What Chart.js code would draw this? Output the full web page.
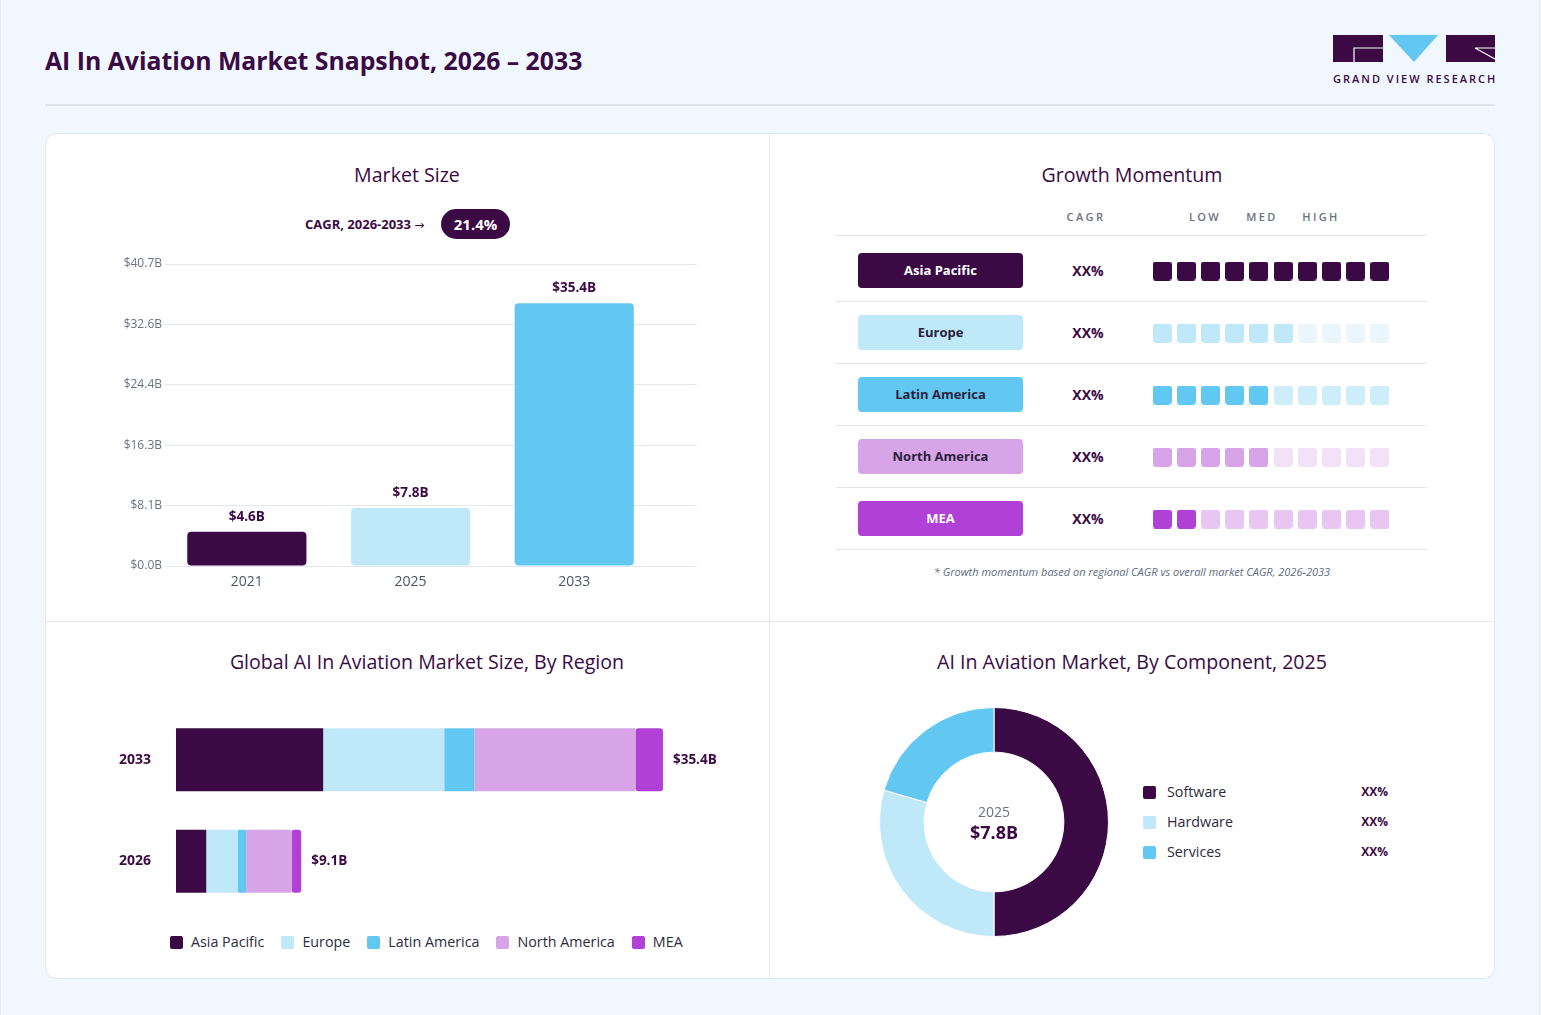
<!DOCTYPE html>
<html>
<head>
<meta charset="utf-8">
<title>AI In Aviation Market Snapshot</title>
<script src="https://cdn.jsdelivr.net/npm/chart.js@4.4.1/dist/chart.umd.min.js"></script>
<style>
  * { box-sizing: border-box; }
  body {
    margin: 0; width: 1541px; height: 1015px; position: relative; overflow: hidden;
    background: #f0f7fe; color: #3b0a45;
    font-family: "Open Sans", "Noto Sans", sans-serif;
  }
  .abs { position: absolute; }
  .edge { left: 0; top: 0; width: 1540px; height: 1015px; border-left: 1px solid #e3eaf3; border-right: 1px solid #e3eaf3; }
  #title { left: 45px; top: 44px; font-size: 24.8px; font-weight: 700; line-height: 32px; white-space: nowrap; }
  .logo-text { left: 1333px; top: 71px; width: 170px; font-size: 11px; font-weight: 600; letter-spacing: 2px; line-height: 16px; white-space: nowrap; }
  #headLine { left: 45px; top: 104px; width: 1450px; height: 2px; background: #dfe6ef; }
  #card { left: 45px; top: 133px; width: 1450px; height: 846px; background: #fff; border: 1px solid #e1e7ef; border-radius: 12px; }
  .vdiv { left: 769px; top: 134px; width: 1px; height: 844px; background: #e6e9f0; }
  .hdiv { left: 46px; top: 621px; width: 1448px; height: 1px; background: #e6e9f0; }
  .ptitle { width: 640px; text-align: center; font-size: 19.6px; font-weight: 500; line-height: 26px; white-space: nowrap; }
  #cagrText { left: 305px; top: 214px; font-size: 13px; font-weight: 700; line-height: 20px; white-space: nowrap; }
  #cagrText .arr { font-family: "DejaVu Sans", sans-serif; font-size: 12px; font-weight: 400; }
  #cagrPill { left: 441px; top: 209px; width: 69px; height: 30px; border-radius: 15px; background: #3b0a45; color: #fff; font-size: 15px; font-weight: 700; line-height: 30px; text-align: center; }
  .mhead { width: 80px; text-align: center; font-size: 11px; font-weight: 600; color: #6b7280; letter-spacing: 2.4px; line-height: 16px; }
  .mline { left: 836px; width: 591px; height: 1px; background: #e5e7ef; }
  .badge { left: 858px; width: 165px; height: 35px; border-radius: 4px; font-size: 13px; font-weight: 700; line-height: 35px; text-align: center; }
  .xx { width: 60px; text-align: center; font-size: 14px; font-weight: 700; line-height: 20px; }
  #foot { left: 832px; top: 564px; width: 600px; text-align: center; font-size: 11px; font-style: italic; color: #5b6b80; line-height: 16px; }
  .leg { display: flex; align-items: center; font-size: 14.3px; color: #2d2a3e; line-height: 20px; white-space: nowrap; }
  .sw { width: 13px; height: 13px; border-radius: 2px; margin-right: 8px; flex: none; }
  .dleg { left: 1143px; width: 245px; }
  .dleg .pct { margin-left: auto; font-size: 12px; font-weight: 700; color: #3b0a45; }
</style>
</head>
<body>
<div class="abs edge"></div>
<div class="abs" id="title">AI In Aviation Market Snapshot, 2026 – 2033</div>

<svg class="abs" style="left:1333px;top:35px" width="163" height="28" viewBox="0 0 163 28">
  <rect x="0" y="0" width="50" height="27" fill="#3b0a45"/>
  <polyline points="21,27 21,13 50,13" fill="none" stroke="#fff" stroke-width="1.2"/>
  <polygon points="56,0 105,0 81,27" fill="#62c8f2"/>
  <rect x="113" y="0" width="49" height="27" fill="#3b0a45"/>
  <polyline points="162,13 142,13 162,24" fill="none" stroke="#fff" stroke-width="1.2"/>
</svg>
<div class="abs logo-text">GRAND VIEW RESEARCH</div>
<div class="abs" id="headLine"></div>

<div class="abs" id="card"></div>
<div class="abs vdiv"></div>
<div class="abs hdiv"></div>

<div class="abs ptitle" style="left:87px;top:162px">Market Size</div>
<div class="abs ptitle" style="left:812px;top:162px">Growth Momentum</div>
<div class="abs ptitle" style="left:107px;top:649px">Global AI In Aviation Market Size, By Region</div>
<div class="abs ptitle" style="left:812px;top:649px">AI In Aviation Market, By Component, 2025</div>

<div class="abs" id="cagrText">CAGR, 2026-2033 <span class="arr">→</span></div>
<div class="abs" id="cagrPill">21.4%</div>

<div class="abs" style="left:100px;top:250px;width:597px;height:346px"><canvas id="marketChart"></canvas></div>

<div class="abs mhead" style="left:1046px;top:209px">CAGR</div>
<div class="abs mhead" style="left:1165px;top:209px">LOW</div>
<div class="abs mhead" style="left:1222px;top:209px">MED</div>
<div class="abs mhead" style="left:1281px;top:209px">HIGH</div>
<div id="momentumRows"></div>
<div class="abs" style="left:1150px;top:240px;width:242px;height:310px"><canvas id="momentumChart"></canvas></div>
<div class="abs" id="foot">* Growth momentum based on regional CAGR vs overall market CAGR, 2026-2033</div>

<div class="abs" style="left:119px;top:700px;width:621px;height:221px"><canvas id="regionChart"></canvas></div>
<div class="abs leg" id="regionLegend" style="left:170px;top:932px"></div>

<div class="abs" style="left:879px;top:707px;width:230px;height:230px"><canvas id="componentChart"></canvas></div>
<div id="componentLegend"></div>

<script>
  // ---- data ----
  const marketYears = ["2021", "2025", "2033"];
  const marketValues = [4.6, 7.8, 35.4];
  const marketTicks = [0, 8.14, 16.28, 24.42, 32.56, 40.7];
  const marketTickLabels = ["$0.0B", "$8.1B", "$16.3B", "$24.4B", "$32.6B", "$40.7B"];

  const regions = ["Asia Pacific", "Europe", "Latin America", "North America", "MEA"];
  const regionYears = ["2033", "2026"];
  const region2033 = [10.7, 8.8, 2.2, 11.7, 2.0];
  const region2026 = [2.2, 2.3, 0.6, 3.3, 0.7];

  const momentumLevels = [10, 6, 5, 5, 2];
  const momentumCagr = ["XX%", "XX%", "XX%", "XX%", "XX%"];
  const momentumSteps = 10;

  const components = ["Software", "Hardware", "Services"];
  const componentValues = [3.9, 2.3, 1.6];
  const componentShares = ["XX%", "XX%", "XX%"];

  // ---- colours ----
  const regionColors = ["#3b0a45", "#bfe8f8", "#62c8f2", "#d8a4e8", "#b040d6"];
  const regionDimColors = ["#3b0a45", "#eaf6fc", "#cdedfb", "#f2e2f7", "#e8c6f1"];
  const badgeText = ["#ffffff", "#2a1f3d", "#2a1f3d", "#2a1f3d", "#ffffff"];
  const marketColors = ["#3b0a45", "#bfe8f8", "#62c8f2"];
  const componentColors = ["#3b0a45", "#bfe8f8", "#62c8f2"];

  const FONT = '"Open Sans", "Noto Sans", sans-serif';
  Chart.defaults.font.family = FONT;
  Chart.defaults.animation = false;

  // ---- market size bar chart ----
  const barLabels = {
    id: "barLabels",
    afterDatasetsDraw(chart) {
      const ctx = chart.ctx;
      const meta = chart.getDatasetMeta(0);
      ctx.save();
      ctx.font = "700 13.5px " + FONT;
      ctx.fillStyle = "#3b0a45";
      ctx.textAlign = "center";
      ctx.textBaseline = "middle";
      meta.data.forEach((bar, i) => {
        ctx.fillText("$" + marketValues[i].toFixed(1) + "B", bar.x, bar.y - 15);
      });
      ctx.restore();
    }
  };

  new Chart(document.getElementById("marketChart"), {
    type: "bar",
    data: {
      datasets: [{
        data: marketValues.map((v, i) => ({ x: i, y: v })),
        backgroundColor: marketColors,
        borderRadius: 4,
        borderSkipped: false,
        categoryPercentage: 0.8,
        barPercentage: 0.91
      }]
    },
    options: {
      responsive: true,
      maintainAspectRatio: false,
      layout: { padding: { top: 14 } },
      plugins: { legend: { display: false }, tooltip: { enabled: false } },
      events: [],
      scales: {
        x: {
          type: "linear",
          offset: false,
          min: -0.5,
          max: 2.75,
          grid: { display: false, drawTicks: false },
          border: { display: false },
          afterBuildTicks: (axis) => { axis.ticks = marketYears.map((y, i) => ({ value: i })); },
          afterFit: (axis) => { axis.height = 30; },
          ticks: {
            autoSkip: false, maxRotation: 0, padding: 8,
            color: "#4b5563", font: { size: 14 },
            callback: (v) => marketYears[v]
          }
        },
        y: {
          min: 0,
          max: 40.7,
          grid: { color: "#e6e8f0", drawTicks: false },
          border: { display: false },
          afterBuildTicks: (axis) => { axis.ticks = marketTicks.map(v => ({ value: v })); },
          afterFit: (axis) => { axis.width = 65; },
          ticks: {
            padding: 3, color: "#6b7280", font: { size: 12 },
            callback: (v, i) => marketTickLabels[i]
          }
        }
      }
    },
    plugins: [barLabels]
  });

  // ---- growth momentum rows ----
  const rowsEl = document.getElementById("momentumRows");
  const rowTop = 240, rowPitch = 62;
  let html = '<div class="abs mline" style="top:235px"></div>';
  regions.forEach((r, i) => {
    const c = rowTop + rowPitch * i + 31;
    html += '<div class="abs badge" style="top:' + (c - 18) + 'px;background:' + regionColors[i] + ';color:' + badgeText[i] + '">' + r + '</div>';
    html += '<div class="abs xx" style="left:1058px;top:' + (c - 10) + 'px">' + momentumCagr[i] + '</div>';
    html += '<div class="abs mline" style="top:' + (c + 30) + 'px"></div>';
  });
  rowsEl.innerHTML = html;

  function makeSquare(color) {
    const cv = document.createElement("canvas");
    cv.width = 19; cv.height = 19;
    const g = cv.getContext("2d");
    g.fillStyle = color;
    g.beginPath();
    g.roundRect(0, 0, 19, 19, 3);
    g.fill();
    return cv;
  }

  const momentumPoints = [];
  const momentumImages = [];
  regions.forEach((r, i) => {
    const on = makeSquare(regionColors[i]);
    const off = makeSquare(regionDimColors[i]);
    for (let s = 1; s <= momentumSteps; s++) {
      momentumPoints.push({ x: s, y: i + 1 });
      momentumImages.push(s <= momentumLevels[i] ? on : off);
    }
  });

  new Chart(document.getElementById("momentumChart"), {
    type: "scatter",
    data: {
      datasets: [{
        data: momentumPoints,
        pointStyle: (ctx) => momentumImages[ctx.dataIndex],
        pointRadius: 10,
        clip: false
      }]
    },
    options: {
      responsive: true,
      maintainAspectRatio: false,
      events: [],
      layout: { autoPadding: false, padding: 0 },
      plugins: { legend: { display: false }, tooltip: { enabled: false } },
      scales: {
        x: { display: false, min: 0.5, max: momentumSteps + 0.5 },
        y: { display: false, min: 0.5, max: regions.length + 0.5, reverse: true }
      }
    }
  });

  // ---- region stacked bar ----
  const totalLabels = {
    id: "totalLabels",
    afterDatasetsDraw(chart) {
      const ctx = chart.ctx;
      const last = chart.getDatasetMeta(chart.data.datasets.length - 1);
      const totals = [region2033, region2026].map(a => a.reduce((s, v) => s + v, 0));
      ctx.save();
      ctx.font = "700 13.5px " + FONT;
      ctx.fillStyle = "#3b0a45";
      ctx.textAlign = "left";
      ctx.textBaseline = "middle";
      last.data.forEach((bar, i) => {
        ctx.fillText("$" + totals[i].toFixed(1) + "B", bar.x + 10, bar.y);
      });
      ctx.restore();
    }
  };

  new Chart(document.getElementById("regionChart"), {
    type: "bar",
    data: {
      labels: regionYears,
      datasets: regions.map((r, i) => ({
        label: r,
        data: [region2033[i], region2026[i]],
        backgroundColor: regionColors[i],
        borderRadius: 3,
        borderSkipped: false,
        categoryPercentage: 1,
        barPercentage: 0.62
      }))
    },
    options: {
      indexAxis: "y",
      responsive: true,
      maintainAspectRatio: false,
      events: [],
      layout: { padding: { top: 9, bottom: 9 } },
      plugins: { legend: { display: false }, tooltip: { enabled: false } },
      scales: {
        x: { stacked: true, display: false, min: 0, max: 41 },
        y: {
          stacked: true,
          grid: { display: false, drawTicks: false },
          border: { display: false },
          afterFit: (axis) => { axis.width = 57; },
          ticks: { padding: 0, crossAlign: "far", color: "#3b0a45", font: { size: 14, weight: "700" } }
        }
      }
    },
    plugins: [totalLabels]
  });

  document.getElementById("regionLegend").innerHTML = regions.map((r, i) =>
    '<span class="sw" style="background:' + regionColors[i] + '"></span><span style="margin-right:17px">' + r + '</span>'
  ).join("");

  // ---- component donut ----
  const centerText = {
    id: "centerText",
    afterDraw(chart) {
      const ctx = chart.ctx;
      const a = chart.chartArea;
      const cx = (a.left + a.right) / 2, cy = (a.top + a.bottom) / 2;
      const total = componentValues.reduce((s, v) => s + v, 0);
      ctx.save();
      ctx.textAlign = "center";
      ctx.textBaseline = "middle";
      ctx.fillStyle = "#6b7280";
      ctx.font = "400 14px " + FONT;
      ctx.fillText("2025", cx, cy - 9);
      ctx.fillStyle = "#3b0a45";
      ctx.font = "700 18px " + FONT;
      ctx.fillText("$" + total.toFixed(1) + "B", cx, cy + 12);
      ctx.restore();
    }
  };

  new Chart(document.getElementById("componentChart"), {
    type: "doughnut",
    data: {
      labels: components,
      datasets: [{
        data: componentValues,
        backgroundColor: componentColors,
        borderColor: "#ffffff",
        borderWidth: 1
      }]
    },
    options: {
      responsive: true,
      maintainAspectRatio: false,
      cutout: "61%",
      events: [],
      plugins: { legend: { display: false }, tooltip: { enabled: false } }
    },
    plugins: [centerText]
  });

  document.getElementById("componentLegend").innerHTML = components.map((c, i) =>
    '<div class="abs leg dleg" style="top:' + (782 + i * 30) + 'px"><span class="sw" style="background:' + componentColors[i] +
    ';margin-right:11px"></span><span>' + c + '</span><span class="pct">' + componentShares[i] + '</span></div>'
  ).join("");
</script>
</body>
</html>
